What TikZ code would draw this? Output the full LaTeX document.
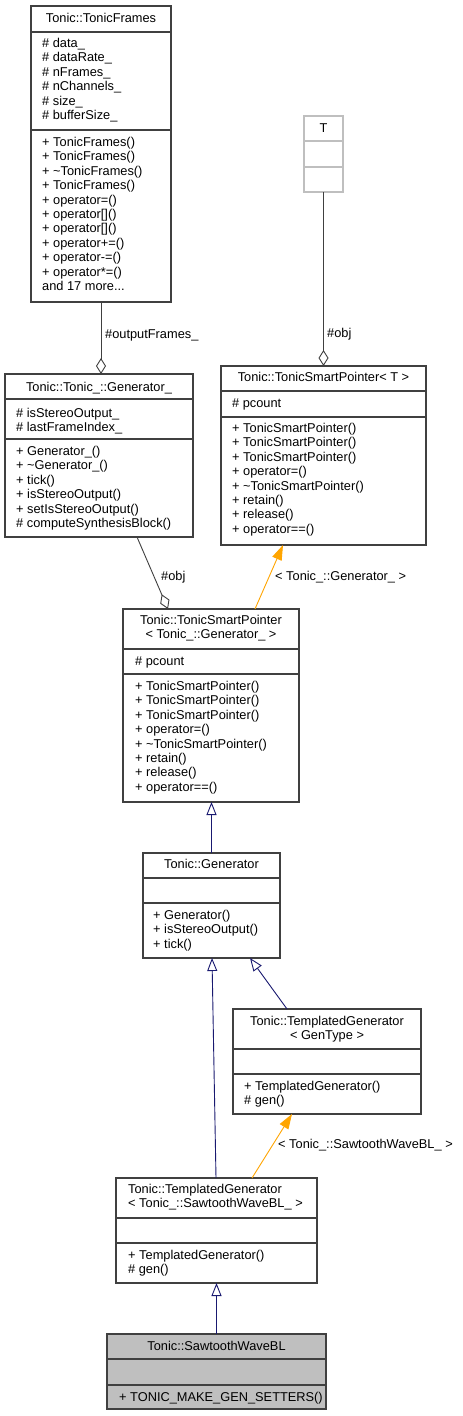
\documentclass[tikz,border=0pt]{standalone}
\usepackage{fontspec}
\setmainfont{Liberation Sans}
\usetikzlibrary{arrows.meta,calc}
\definecolor{edgegray}{HTML}{404040}
\definecolor{navyblue}{HTML}{191970}
\definecolor{orng}{HTML}{FFA500}
\definecolor{boxgray}{HTML}{BFBFBF}
\tikzset{
  umlbox/.style={draw=edgegray, line width=1.2pt, fill=white, inner sep=0pt, outer sep=0pt, anchor=north west},
  sepline/.style={draw=edgegray, line width=1.2pt},
  txt/.style={inner sep=0pt, anchor=base west, font=\fontsize{12.8}{14.4}\selectfont},
  ctxt/.style={txt, anchor=base},
  inherit/.style={draw=navyblue, line width=0.9pt, -{Triangle[open,length=13pt,width=10pt]}},
  tmpl/.style={draw=orng, line width=0.9pt, -{Triangle[length=15pt,width=10pt]}},
  assoc/.style={draw=edgegray, line width=0.9pt, -{Diamond[open,length=16pt,width=10pt]}},
}
% name, left, top, right, bottom, sep1, sep2, style
\newcommand\umlBox[8]{%
  \node[umlbox, #8, minimum width={(#4-#2)*1pt}, minimum height={(#5-#3)*1pt}] (#1) at (#2,#3) {};
  \draw[sepline, #8] (#1.west |- 0,#6) -- (#1.east |- 0,#6);
  \draw[sepline, #8] (#1.west |- 0,#7) -- (#1.east |- 0,#7);
}
% prefix, x, first baseline, list
\newcommand\memberList[4]{%
  \foreach \t [count=\i] in {#4} {
    \node[txt] (#1\i) at (#2, {#3+(\i-1)*14.4}) {\t};
  }
}
\begin{document}
\begin{tikzpicture}[x=1pt, y=-1pt]
\useasboundingbox[fill=white] (0,0) rectangle (463,1416);

% ---------- boxes ----------
\umlBox{tf}{31}{6}{171}{302}{32}{130}{}
\node[ctxt] (tfT) at (101,22.5) {Tonic::TonicFrames};
\memberList{tfa}{42}{47.5}{{\# data\_},{\# dataRate\_},{\# nFrames\_},{\# nChannels\_},{\# size\_},{\# bufferSize\_}}
\memberList{tfm}{42}{146.5}{{+ TonicFrames()},{+ TonicFrames()},{+ \textasciitilde TonicFrames()},{+ TonicFrames()},{+ operator=()},{+ operator[]()},{+ operator[]()},{+ operator+=()},{+ operator-=()},{+ operator*=()}}
\node[txt] (tfmore) at (42,{146.5+10*14.4}) {and 17 more...};

\umlBox{tb}{304}{116}{343}{192}{141}{167}{draw=boxgray}
\node[ctxt] (tbT) at (323.5,132.5) {T};

\umlBox{tsp}{221}{366}{426}{545}{391}{417}{}
\node[ctxt] (tspT) at (323.5,381.5) {Tonic::TonicSmartPointer< T >};
\memberList{tspa}{232}{407.5}{{\# pcount}}
\memberList{tspm}{232}{432.5}{{+ TonicSmartPointer()},{+ TonicSmartPointer()},{+ TonicSmartPointer()},{+ operator=()},{+ \textasciitilde TonicSmartPointer()},{+ retain()},{+ release()},{+ operator==()}}

\umlBox{gu}{5}{374}{193}{537}{399}{439}{}
\node[ctxt] (guT) at (99,391.5) {Tonic::Tonic\_::Generator\_};
\memberList{gua}{16}{417.5}{{\# isStereoOutput\_},{\# lastFrameIndex\_}}
\memberList{gum}{16}{455.5}{{+ Generator\_()},{+ \textasciitilde Generator\_()},{+ tick()},{+ isStereoOutput()},{+ setIsStereoOutput()},{\# computeSynthesisBlock()}}

\umlBox{tspg}{123}{609}{299}{802}{649}{674}{}
\node[ctxt] (tspgT1) at (211,624.5) {Tonic::TonicSmartPointer};
\node[ctxt] (tspgT2) at (211,638.9) {< Tonic\_::Generator\_ >};
\memberList{tspga}{135}{665.5}{{\# pcount}}
\memberList{tspgm}{135}{690.5}{{+ TonicSmartPointer()},{+ TonicSmartPointer()},{+ TonicSmartPointer()},{+ operator=()},{+ \textasciitilde TonicSmartPointer()},{+ retain()},{+ release()},{+ operator==()}}

\umlBox{gen}{143}{853}{280}{958}{878}{903}{}
\node[ctxt] (genT) at (211.5,868.5) {Tonic::Generator};
\memberList{genm}{153}{919.5}{{+ Generator()},{+ isStereoOutput()},{+ tick()}}

\umlBox{tgg}{233}{1009}{421}{1114}{1049}{1074}{}
\node[ctxt] (tggT1) at (327,1025) {Tonic::TemplatedGenerator};
\node[ctxt] (tggT2) at (327,1039.4) {< GenType >};
\memberList{tggm}{244}{1090.5}{{+ TemplatedGenerator()},{\# gen()}}

\umlBox{tgs}{116}{1178}{317}{1283}{1218}{1243}{}
\node[txt] (tgsT1) at (128,1193.5) {Tonic::TemplatedGenerator};
\node[txt] (tgsT2) at (128,1207.9) {< Tonic\_::SawtoothWaveBL\_ >};
\memberList{tgsm}{128}{1259.5}{{+ TemplatedGenerator()},{\# gen()}}

\umlBox{saw}{107}{1334}{326}{1409}{1359}{1385}{fill=boxgray}
\node[ctxt] (sawT) at (216.5,1350.5) {Tonic::SawtoothWaveBL};
\memberList{sawm}{119}{1401.5}{{+ TONIC\_MAKE\_GEN\_SETTERS()}}

% ---------- connectors ----------
\draw[assoc] (tf.south) -- (tf.south |- gu.north);
\node[txt] (l1) at (105,338.5) {\#outputFrames\_};

\draw[assoc] (tb.south) -- (tsp.north);
\node[txt] (l2) at (327,337.5) {\#obj};

\draw[assoc] ([xshift=132pt]gu.south west) -- ([xshift=45pt]tspg.north west);
\node[txt] (l3) at (161,580.5) {\#obj};

\draw[tmpl] ([xshift=132pt]tspg.north west) -- ([xshift=62pt]tsp.south west);
\node[txt] (l4) at (275,580.5) {< Tonic\_::Generator\_ >};

\draw[inherit] (gen.north) -- (gen.north |- tspg.south);
\draw[inherit] ([xshift=54pt]tgg.north west) -- ([xshift=107pt]gen.south west);
\draw[inherit] ([xshift=100pt]tgs.north west) -- ([xshift=69pt]gen.south west);

\draw[tmpl] ([xshift=136pt]tgs.north west) -- ([xshift=59pt]tgg.south west);
\node[txt] (l5) at (278,1148.5) {< Tonic\_::SawtoothWaveBL\_ >};

\draw[inherit] (saw.north) -- (saw.north |- tgs.south);
\end{tikzpicture}
\end{document}
